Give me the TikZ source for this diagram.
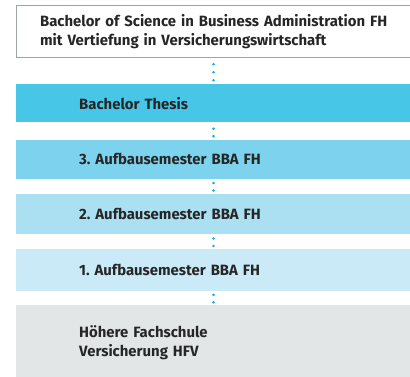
\documentclass[tikz,border=0pt]{standalone}
\usepackage{fontspec}
\setmainfont{Fira Sans}
\usetikzlibrary{positioning}
\definecolor{framegray}{HTML}{9CA7A1}
\definecolor{textgray}{HTML}{262626}
\definecolor{dotblue}{HTML}{17B1E0}
\definecolor{thesisblue}{HTML}{48C6E8}
\definecolor{semthree}{HTML}{7DD3EE}
\definecolor{semtwo}{HTML}{ABE0F2}
\definecolor{semone}{HTML}{CBEAF7}
\definecolor{hfvgray}{HTML}{E2E6E6}
\tikzset{
  level/.style={text width=268pt, inner xsep=63pt, inner ysep=0pt, align=left,
    font=\bfseries\fontsize{14.9}{19}\selectfont\frenchspacing, text=textgray},
  dots/.style={draw=dotblue, line width=2.6pt, line cap=round,
    dash pattern=on 0.1pt off 7.4pt, shorten <=#1}
}

\begin{document}
\begin{tikzpicture}[x=1pt,y=1pt]
  \useasboundingbox (0,0) rectangle (410,-376);
  % programme at the top
  \node[level, anchor=north west, draw=framegray, line width=1.2pt, inner xsep=24pt,
    text width=380pt, minimum height=52.5pt] (bsc) at (15.5,-4.5)
    {Bachelor of Science in Business Administration FH\\mit Vertiefung in Versicherungswirtschaft};
  % steps below it
  \node[level, fill=thesisblue, minimum height=38pt, below=26pt of bsc.south west,
    anchor=north west, xshift=.5pt] (thesis) {Bachelor Thesis};
  \node[level, fill=semthree, minimum height=39pt, below=17pt of thesis] (sem3) {3. Aufbausemester BBA FH};
  \node[level, fill=semtwo, minimum height=40pt, below=15pt of sem3] (sem2) {2. Aufbausemester BBA FH};
  \node[level, fill=semone, minimum height=42pt, below=14pt of sem2] (sem1) {1. Aufbausemester BBA FH};
  \node[level, fill=hfvgray, minimum height=76pt, below=14pt of sem1] (hfv)
    {Höhere Fachschule\\Versicherung HFV};
  % dotted links
  \draw[dots=6pt, dash pattern=on 0.1pt off 7.9pt, shorten >=3pt] (thesis.north |- bsc.south) -- (thesis.north);
  \draw[dots=6pt, shorten >=3pt] (thesis.south) -- (sem3.north);
  \draw[dots=4pt, shorten >=3pt] (sem3.south) -- (sem2.north);
  \draw[dots=4pt, shorten >=2pt] (sem2.south) -- (sem1.north);
  \draw[dots=4pt, shorten >=2pt] (sem1.south) -- (hfv.north);
\end{tikzpicture}
\end{document}
